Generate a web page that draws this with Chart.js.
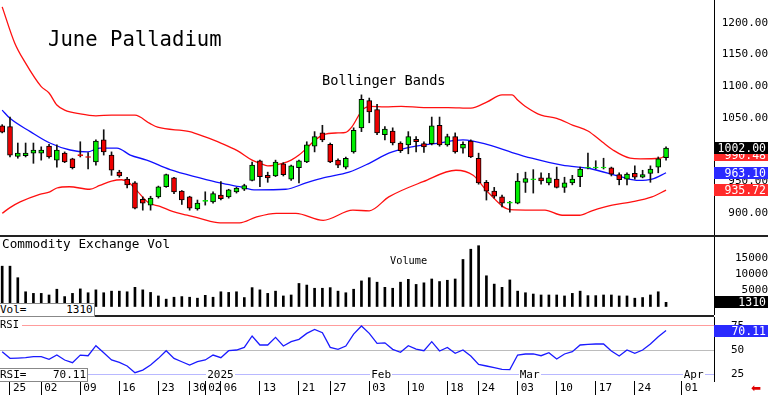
<!DOCTYPE html>
<html>
<head>
<meta charset="utf-8">
<script src="https://cdn.jsdelivr.net/npm/chart.js@4.4.1/dist/chart.umd.min.js"></script>
<style>
  body { margin: 0; background: #fff; }
  #wrap { position: relative; width: 768px; height: 395px; overflow: hidden; font-family: 'DejaVu Sans Mono', monospace; }
  .pane { position: absolute; left: 0; width: 768px; }
  .txt { position: absolute; white-space: pre; color: #000; line-height: 1; }
  .sep { position: absolute; background: #222; }
  .box { position: absolute; left: 714px; width: 54px; height: 12px; line-height: 12px; font-size: 11.5px;
         color: #fff; text-align: right; padding-right: 2px; box-sizing: border-box; white-space: pre; }
  .lbox { position: absolute; left: -1px; height: 12px; line-height: 12px; font-size: 11px; background: #fff;
          border: 1px solid #888; white-space: pre; }
  .month { position: absolute; top: 369px; font-size: 11px; line-height: 12px; background: #fff; padding: 0 1px; }
</style>
</head>
<body>
<div id="wrap">
  <div class="pane" style="top:0;height:235px"><canvas id="priceChart" width="768" height="235"></canvas></div>
  <div class="pane" style="top:237px;height:78px"><canvas id="volChart" width="768" height="78"></canvas></div>
  <div class="pane" style="top:317px;height:78px"><canvas id="rsiChart" width="768" height="78"></canvas></div>
  <div class="sep" style="left:0;top:235px;width:768px;height:2px"></div>
  <div class="sep" style="left:0;top:315px;width:714px;height:2px"></div>

  <div class="txt" style="left:48px;top:29px;font-size:20.6px">June Palladium</div>
  <div class="txt" style="left:322px;top:74px;font-size:13.7px">Bollinger Bands</div>
  <div class="txt" style="left:2px;top:238px;font-size:12.7px">Commodity Exchange Vol</div>
  <div class="txt" style="left:390px;top:255px;font-size:10.3px">Volume</div>
  <div class="txt" style="left:0;top:319px;font-size:10.5px;background:#fff;padding-right:3px">RSI</div>
  <div id="volBox" class="lbox" style="top:303px;width:94px"></div>
  <div id="rsiBox" class="lbox" style="top:368px;width:87px"></div>
  <div class="txt" style="left:751px;top:382px;font-size:12px;color:#e00000;font-family:'DejaVu Sans'">⬅</div>
  <div id="overlays"></div>
</div>
<script>
// trading days (last 6 are empty future days on the axis)
const dates = [
  '2024-11-22','2024-11-25','2024-11-26','2024-11-27','2024-11-29',
  '2024-12-02','2024-12-03','2024-12-04','2024-12-05','2024-12-06',
  '2024-12-09','2024-12-10','2024-12-11','2024-12-12','2024-12-13',
  '2024-12-16','2024-12-17','2024-12-18','2024-12-19','2024-12-20',
  '2024-12-23','2024-12-24','2024-12-26','2024-12-27',
  '2024-12-30','2024-12-31','2025-01-02','2025-01-03',
  '2025-01-06','2025-01-07','2025-01-08','2025-01-09','2025-01-10',
  '2025-01-13','2025-01-14','2025-01-15','2025-01-16','2025-01-17',
  '2025-01-21','2025-01-22','2025-01-23','2025-01-24',
  '2025-01-27','2025-01-28','2025-01-29','2025-01-30','2025-01-31',
  '2025-02-03','2025-02-04','2025-02-05','2025-02-06','2025-02-07',
  '2025-02-10','2025-02-11','2025-02-12','2025-02-13','2025-02-14',
  '2025-02-18','2025-02-19','2025-02-20','2025-02-21',
  '2025-02-24','2025-02-25','2025-02-26','2025-02-27','2025-02-28',
  '2025-03-03','2025-03-04','2025-03-05','2025-03-06','2025-03-07',
  '2025-03-10','2025-03-11','2025-03-12','2025-03-13','2025-03-14',
  '2025-03-17','2025-03-18','2025-03-19','2025-03-20','2025-03-21',
  '2025-03-24','2025-03-25','2025-03-26','2025-03-27','2025-03-28',
  '2025-03-31','2025-04-01','2025-04-02','2025-04-03','2025-04-04','2025-04-07'
];

const opens = [
  1037,1036,989,990,994,994,1005,983,994,985,
  991.8,988.8,980,1015,991,964,953,947,921,912,
  925,941,955,934,925,906,918,917,928,925,
  933,937,951,982,959,958,977,953,971,980,
  1005,1026,1008,983,972,996,1034,1077,1063,1023,
  1029,1010,1007,1016,1009,1009,1038,1007,1020,1002,
  1013,986,948,934,925,915,915,948,952,955,
  947,953,940,947,957,970.6,970.6,970.6,971,960,
  953,962,956,962,972,987
];
const highs = [
  1039,1051,1010,1010,1010,1004,1008,1007,996,986,
  1012,995,1015,1031,996,967,956,949,925,926,
  942,961,956,935,926,920,933,933,949,937,
  940,945,980,983,964,983,979,975,983,1012,
  1028,1038,1010,985,988,1034,1086,1081,1071,1036,
  1034,1012,1028,1020,1012,1051,1051,1024,1026,1012,
  1015,994,951,940,928,918,962,964,968,963,
  962,972,956,959,972,994,982,986,972,963,
  963,974,967,974,988,1004
];
const lows = [
  1026,988,986,988,978,983,986,972,979,969,
  988,969,975,991,959,956,939,906,904,904,
  923,940,930,913,904,904,912,915,920,923,
  931,935,950,941,948,957,958,951,947,979,
  996,1012,979,971,969,994,1028,1042,1023,1015,
  1007,995,993,996,995,1007,1005,1005,994,994,
  987,945,920,923,909,901,914,932,931,945,
  944,939,932,944,941,969,969,969,958,944,
  944,953,955,948,963,983
];
const closes = [
  1027,991,994,994,999,999,988,999,980,971,
  990.2,987.2,1013,996,967,958,944,907,915,923,
  941,960,933,920,907,915,919.6,930,922,936,
  939,943,975,957,955,980,960,974,982,1007,
  1020,1015,980,975,986,1030,1079,1059,1026,1032,
  1010,998,1020,1012,1004,1037,1007,1020,996,1008,
  988,947,934,926,915,916.6,950,954,953.6,950,
  955,940,947,953,969,972.2,972.2,972.2,961,952,
  961,956,960,969,985,1002
];
const volumes = [
  12600,12600,9000,4600,4100,4100,3600,5400,3100,4100,
  5500,4300,5200,4300,4800,4800,4600,6000,5200,4400,
  3300,2300,2900,3100,2900,2600,3500,2900,4600,4400,
  4600,2800,5900,5200,4100,4800,3300,3600,7200,6700,
  5700,5700,5900,4800,4300,5400,8000,9000,7600,6000,
  5700,7600,8500,6900,7400,8600,7800,8200,8600,14700,
  17900,19000,9600,7000,6000,8300,4800,4300,3900,3600,
  3600,3600,3300,4100,4800,3400,3400,3600,3600,3300,
  3300,2600,2800,3600,4600,1310
];
const rsi = [
  48.3,41.4,41.7,42.1,43.1,43.1,40.4,44.8,39.7,36.9,
  44.8,44.1,54.5,47.2,39.7,37.2,33.5,26.6,29.3,34.5,
  41.4,49.3,41.4,37.9,34.5,37.9,39.7,44.8,42.1,49.3,
  50.0,52.7,64.5,55.2,55.2,63.1,54.1,58.6,61.0,67.2,
  71.3,67.9,52.7,50.7,54.1,66.5,74.8,67.2,56.9,57.4,
  50.7,47.6,54.5,51.0,49.3,58.6,49.0,52.7,46.6,50.0,
  43.8,35.2,33.5,31.8,30.1,29.7,44.8,45.9,45.9,44.1,
  47.2,40.7,45.9,48.3,55.2,55.9,56.2,56.2,49.0,43.8,
  50.0,46.6,50.0,56.2,63.8,70.11
];

// Bollinger bands at these day positions
const upperIdx = [0,1.6,2.9,5,6,7,8,10,12,14,17,18.9,19.9,24,25.9,28,30.1,32,33,34,35.9,37,38,39,40.1,41.1,43,44,44.8,46.1,47.1,49,51.1,54,57.1,60,62.1,64,65.3,66,67.1,69,71,73.1,75,76.8,78.2,80.4,81.7,84.2,85];
const upperVal = [1225,1168,1138,1099,1089,1070,1062,1056,1053,1054,1054,1041,1035,1028,1020,1010,998,983,978,974,978,983,991,1002,1015,1023,1026,1027,1036,1062,1068,1067,1068,1066,1066,1065,1075,1086,1086,1078,1067,1054,1049,1038,1029,1012,999,986,985,986,990.48];
const midIdx = [0,1,3.6,6.1,8.7,10.9,12.5,14.7,16.4,18.5,21.5,25.3,27.9,30.4,32.5,36.3,38.9,41.1,44.4,47,49.5,51.7,55.9,59,62.3,65.3,67.8,71.7,75.5,79.4,81.5,83.2,85];
const midVal = [1062,1049,1028,1010,999,996,1002,1002,991,983,968,955,947,941,936,937,947,955,964,978,994,1002,1010,1015,1007,995,986,975,969,956,951,953,963.10];
const lowerIdx = [0,1,2.3,4.8,6.1,7,8.6,11.2,12.5,14,15.3,16.3,17.3,18.7,20.2,21.8,23.7,25.3,27.9,30.4,32.5,35.1,37.6,41.1,44.9,47,49.5,53.9,58.1,60.3,62.3,65,69.5,71.7,73.9,75.5,78.1,80.6,83.2,85];
const lowerVal = [899,908,917,929,933,939,941,937,943,950,952,947,934,916,910,902,896,891,884,884,893,899,899,888,904,903,925,949,967,959,931,905,904,896,896,903,912,917,925,935.72];

const priceTicks = [900, 950, 1000, 1050, 1100, 1150, 1200];
const volTicks = [5000, 10000, 15000];
const rsiTicks = [25, 50, 75];
const weekTicks = [1,5,10,15,20,24,26,28,33,38,42,47,52,57,61,66,71,76,81,87];
const monthIdx = [5, 26, 47, 66, 87];
const monthNames = ['Dec', '2025', 'Feb', 'Mar', 'Apr'];

const X_MIN = -0.28, X_MAX = 91.14;
const tickFont = { family: 'DejaVu Sans Mono', size: 11 };
const UP = '#00ee00', DOWN = '#ee0000';
const CLEAR = 'rgba(0,0,0,0)';

function pairs(xs, ys) {
  return xs.map((x, i) => ({ x: x, y: ys[i] }));
}

// no label padding: the panes have to line up exactly
function noPad(a) {
  a.paddingTop = 0; a.paddingBottom = 0; a.paddingLeft = 0; a.paddingRight = 0;
}

function hiddenX() {
  return { type: 'linear', min: X_MIN, max: X_MAX, offset: false, display: false };
}

// shift = gap between the axis line and the labels (drawn as invisible tick marks)
function rightAxis(min, max, ticks, shift, extra) {
  return Object.assign({
    position: 'right', min: min, max: max,
    afterFit: a => { a.width = 54; noPad(a); },
    afterBuildTicks: a => { a.ticks = ticks.map(v => ({ value: v })); },
    grid: { drawOnChartArea: false, tickLength: shift, tickColor: CLEAR },
    border: { display: true, color: '#000', width: 1 }
  }, extra);
}

const common = {
  responsive: false,
  animation: false,
  layout: { padding: 0 },
  plugins: { legend: { display: false }, tooltip: { enabled: false } }
};

const candleBodies = closes.map((c, i) => ({ x: i, y: [opens[i], c] }));
const candleWicks = highs.map((h, i) => ({ x: i, y: [lows[i], h] }));
const isDoji = i => Math.abs(closes[i] - opens[i]) < 2;
const bodyColor = i => closes[i] >= opens[i] ? UP : DOWN;

const priceChart = new Chart(document.getElementById('priceChart'), {
  type: 'bar',
  data: {
    datasets: [
      { type: 'line', data: pairs(upperIdx, upperVal), borderColor: '#ff1010', borderWidth: 1.3, pointRadius: 0, cubicInterpolationMode: 'monotone', order: 5 },
      { type: 'line', data: pairs(midIdx, midVal), borderColor: '#1010ff', borderWidth: 1.3, pointRadius: 0, cubicInterpolationMode: 'monotone', order: 5 },
      { type: 'line', data: pairs(lowerIdx, lowerVal), borderColor: '#ff1010', borderWidth: 1.3, pointRadius: 0, cubicInterpolationMode: 'monotone', order: 5 },
      { data: candleWicks, backgroundColor: '#111', barThickness: 1, grouped: false, order: 2 },
      {
        data: candleBodies, grouped: false, barThickness: 5, borderSkipped: false, borderWidth: 1, order: 1,
        backgroundColor: ctx => bodyColor(ctx.dataIndex),
        borderColor: ctx => isDoji(ctx.dataIndex) ? bodyColor(ctx.dataIndex) : '#000'
      }
    ]
  },
  options: Object.assign({}, common, {
    scales: {
      x: hiddenX(),
      y: rightAxis(864.8, 1235.8, priceTicks, 5, {
        ticks: { font: tickFont, color: '#000', crossAlign: 'far', padding: 0, callback: v => v.toFixed(2) }
      })
    }
  })
});

const volChart = new Chart(document.getElementById('volChart'), {
  type: 'bar',
  data: {
    datasets: [{ data: volumes.map((v, i) => ({ x: i, y: v })), backgroundColor: '#000', barThickness: 2, grouped: false }]
  },
  options: Object.assign({}, common, {
    scales: {
      x: hiddenX(),
      y: rightAxis(-2656, 21720, volTicks, 19, {
        ticks: { font: tickFont, color: '#000', crossAlign: 'far', padding: 0, callback: v => String(v) }
      })
    }
  })
});

const rsiColors = { 25: '#b8b8ff', 50: '#bcbcbc', 75: '#ff9c9c' };
const rsiChart = new Chart(document.getElementById('rsiChart'), {
  type: 'line',
  data: {
    datasets: [{ data: rsi.map((v, i) => ({ x: i, y: v })), borderColor: '#1a1aff', borderWidth: 1.3, pointRadius: 0 }]
  },
  options: Object.assign({}, common, {
    scales: {
      x: {
        type: 'linear', min: X_MIN, max: X_MAX, offset: false, position: 'bottom',
        afterFit: a => { a.height = 14; noPad(a); },
        afterBuildTicks: a => { a.ticks = weekTicks.map(v => ({ value: v })); },
        ticks: {
          font: tickFont, color: '#000', align: 'start', labelOffset: 3, padding: -13,
          autoSkip: false, maxRotation: 0, callback: v => dates[v].slice(8)
        },
        grid: { drawOnChartArea: false, tickLength: 14, color: '#000' },
        border: { display: false }
      },
      y: rightAxis(18.0, 84.1, rsiTicks, 17, {
        ticks: { font: tickFont, color: '#000', crossAlign: 'near', padding: 0 },
        grid: { drawOnChartArea: true, tickLength: 17, tickColor: CLEAR, lineWidth: 1,
                color: ctx => rsiColors[ctx.tick.value] || '#ccc' }
      })
    }
  })
});

// value boxes on the right edge
const overlays = document.getElementById('overlays');
function valueBox(chart, paneTop, value, text, bg) {
  const d = document.createElement('div');
  d.className = 'box';
  d.style.top = (paneTop + chart.scales.y.getPixelForValue(value) - 6) + 'px';
  d.style.background = bg;
  d.textContent = text;
  overlays.appendChild(d);
}
const n = closes.length - 1;
valueBox(priceChart, 0, lowerVal[lowerVal.length - 1], lowerVal[lowerVal.length - 1].toFixed(2), '#ff2a2a');
valueBox(priceChart, 0, midVal[midVal.length - 1], midVal[midVal.length - 1].toFixed(2), '#2a2aff');
valueBox(priceChart, 0, upperVal[upperVal.length - 1], upperVal[upperVal.length - 1].toFixed(2), '#ff2a2a');
valueBox(priceChart, 0, closes[n], closes[n].toFixed(2), '#000');
valueBox(volChart, 237, volumes[n], String(volumes[n]), '#000');
valueBox(rsiChart, 317, rsi[n], rsi[n].toFixed(2), '#2a2aff');

document.getElementById('volBox').textContent = 'Vol=      ' + volumes[n];
document.getElementById('rsiBox').textContent = 'RSI=    ' + rsi[n].toFixed(2);

// month names along the date strip
monthIdx.forEach((idx, k) => {
  const s = document.createElement('div');
  s.className = 'month';
  s.style.left = (rsiChart.scales.x.getPixelForValue(idx) + 1) + 'px';
  s.textContent = monthNames[k];
  overlays.appendChild(s);
});
// keep the left value boxes on top of the month names
document.getElementById('wrap').appendChild(document.getElementById('rsiBox'));
</script>
</body>
</html>
